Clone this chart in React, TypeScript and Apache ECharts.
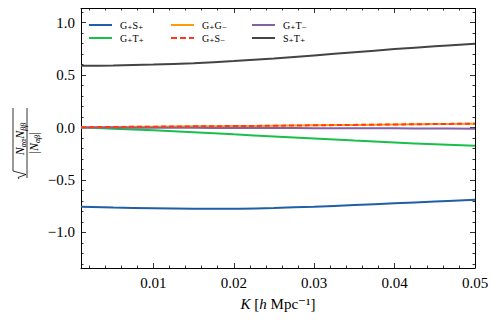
import React, { useEffect, useRef } from "react";
import * as echarts from "echarts";

const K = [0.001, 0.005, 0.01, 0.015, 0.02, 0.025, 0.03, 0.035, 0.04, 0.045, 0.05];
const GpSp = [-0.755, -0.764, -0.771, -0.774, -0.774, -0.767, -0.755, -0.74, -0.723, -0.706, -0.69];
const GpTp = [0.0, -0.012, -0.027, -0.045, -0.065, -0.085, -0.105, -0.125, -0.143, -0.16, -0.175];
const GpGm = [0.003, 0.005, 0.008, 0.011, 0.014, 0.017, 0.021, 0.025, 0.029, 0.033, 0.037];
const GpSm = [0.003, 0.005, 0.008, 0.011, 0.014, 0.017, 0.021, 0.025, 0.029, 0.033, 0.037];
const GpTm = [0.0, -0.001, -0.002, -0.003, -0.004, -0.005, -0.006, -0.007, -0.008, -0.009, -0.011];
const SpTp = [0.59, 0.592, 0.6, 0.614, 0.634, 0.659, 0.688, 0.718, 0.748, 0.775, 0.8];

const xMajor = [0.01, 0.02, 0.03, 0.04, 0.05];
const xMinor = [0.002, 0.004, 0.006, 0.008, 0.012, 0.014, 0.016, 0.018, 0.022, 0.024, 0.026, 0.028, 0.032, 0.034, 0.036, 0.038, 0.042, 0.044, 0.046, 0.048];
const yMajor = [-1.0, -0.5, 0.0, 0.5, 1.0];
const yMinor = [-1.3, -1.2, -1.1, -0.9, -0.8, -0.7, -0.6, -0.4, -0.3, -0.2, -0.1, 0.1, 0.2, 0.3, 0.4, 0.6, 0.7, 0.8, 0.9, 1.1];

const names = ["G₊S₊", "G₊T₊", "G₊G₋", "G₊S₋", "G₊T₋", "S₊T₊"];
const colors = ["#1f5fa6", "#18c04a", "#ff9a0a", "#ff3a1a", "#8460a8", "#444444"];
const values = [GpSp, GpTp, GpGm, GpSm, GpTm, SpTp];

const FONT = "Liberation Serif, DejaVu Serif, serif";
const SOLID_ICON = "path://M0,0h23v2h-23z";
const DASH_ICON = "path://M0,0h6v2h-6z M9,0h6v2h-6z M18,0h5v2h-5z";

export default function App() {
  const ref = useRef<HTMLDivElement>(null);
  useEffect(() => {
    if (!ref.current) return;
    const chart = echarts.init(ref.current, undefined, { renderer: "svg" });
    const xMin = 0.001, xMax = 0.05, yMin = -1.34, yMax = 1.14;
    const mkX = (pos: string, ticks: number[], len: number, line: boolean, label: boolean, extra: any = {}) => ({
      type: "value", min: xMin, max: xMax, position: pos,
      axisLine: { show: line, onZero: false, lineStyle: { color: "#000", width: 1 } },
      axisTick: { show: true, inside: true, length: len, customValues: ticks, lineStyle: { color: "#000", width: 0.8 } },
      axisLabel: label ? { show: true, customValues: ticks, margin: 7, color: "#000", fontSize: 15, fontFamily: FONT, formatter: (v: number) => v.toFixed(2) } : { show: false },
      splitLine: { show: false },
      ...extra,
    });
    const mkY = (pos: string, ticks: number[], len: number, line: boolean, label: boolean) => ({
      type: "value", min: yMin, max: yMax, position: pos,
      axisLine: { show: line, onZero: false, lineStyle: { color: "#000", width: 1 } },
      axisTick: { show: true, inside: true, length: len, customValues: ticks, lineStyle: { color: "#000", width: 0.8 } },
      axisLabel: label ? { show: true, customValues: ticks, margin: 6, color: "#000", fontSize: 15, fontFamily: FONT, formatter: (v: number) => (v < 0 ? "−" : "") + Math.abs(v).toFixed(1) } : { show: false },
      splitLine: { show: false },
    });
    const legendPos = [[89, 20], [89, 33], [171, 20], [171, 33], [252, 20], [252, 33]];
    chart.setOption({
      animation: false,
      grid: { left: 81, right: 23, top: 8, bottom: 52 },
      xAxis: [
        mkX("bottom", xMajor, 5, true, true, {
          name: "{i|K} [{i|h} Mpc⁻¹]",
          nameLocation: "middle",
          nameGap: 26,
          nameTextStyle: {
            color: "#000", fontSize: 15, fontFamily: FONT, lineHeight: 18,
            rich: {
              i: { fontStyle: "italic", fontSize: 15, fontFamily: FONT, color: "#000", lineHeight: 18 },
            },
          },
        }),
        mkX("bottom", xMinor, 2.5, false, false),
        mkX("top", xMajor, 5, true, false),
        mkX("top", xMinor, 2.5, false, false),
      ],
      yAxis: [
        mkY("left", yMajor, 5, true, true),
        mkY("left", yMinor, 2.5, false, false),
        mkY("right", yMajor, 5, true, false),
        mkY("right", yMinor, 2.5, false, false),
      ],
      legend: names.map((n, i) => ({
        data: [{ name: n, icon: i === 3 ? DASH_ICON : SOLID_ICON }],
        left: legendPos[i][0],
        top: legendPos[i][1],
        itemWidth: 23,
        itemHeight: 2.2,
        padding: 0,
        textStyle: { fontSize: 10, fontFamily: FONT, color: "#000", padding: [0, 0, 0, 3] },
      })),
      series: names.map((n, i) => ({
        name: n,
        type: "line",
        data: K.map((k, j) => [k, values[i][j]]),
        xAxisIndex: 0,
        yAxisIndex: 0,
        smooth: 0.4,
        showSymbol: false,
        symbol: "none",
        lineStyle: { color: colors[i], width: 2, type: i === 3 ? [5, 3] : "solid" },
        itemStyle: { color: colors[i] },
        z: i === 3 ? 5 : 2,
      })),
      graphic: [
        {
          type: "group",
          x: 27,
          y: 143,
          rotation: Math.PI / 2,
          children: [
            { type: "line", shape: { x1: -35, y1: 0, x2: 35, y2: 0 }, style: { stroke: "#000", lineWidth: 0.8 } },
            { type: "polyline", shape: { points: [[-36, -8], [-34.5, -9], [-31.5, -1], [-28, -14], [35, -14]] }, style: { stroke: "#000", lineWidth: 0.8, fill: "none" } },
            {
              type: "text", x: 4, y: -7,
              style: {
                text: "{i|N}{s|αα}{i|N}{s|ββ}",
                align: "center", verticalAlign: "middle",
                rich: {
                  i: { fontStyle: "italic", fontSize: 12, fontFamily: FONT, fill: "#000", lineHeight: 14, verticalAlign: "middle" },
                  s: { fontStyle: "italic", fontSize: 8, fontFamily: FONT, fill: "#000", lineHeight: 5, verticalAlign: "bottom" },
                },
              },
            },
            {
              type: "text", x: 0, y: 7,
              style: {
                text: "{r||}{i|N}{s|αβ}{r||}",
                align: "center", verticalAlign: "middle",
                rich: {
                  r: { fontSize: 12, fontFamily: FONT, fill: "#000", lineHeight: 14, verticalAlign: "middle" },
                  i: { fontStyle: "italic", fontSize: 12, fontFamily: FONT, fill: "#000", lineHeight: 14, verticalAlign: "middle" },
                  s: { fontStyle: "italic", fontSize: 8, fontFamily: FONT, fill: "#000", lineHeight: 5, verticalAlign: "bottom" },
                },
              },
            },
          ],
        },
      ],
    });
    return () => chart.dispose();
  }, []);
  return <div ref={ref} style={{ width: 498, height: 320, margin: -8 }} />;
}
